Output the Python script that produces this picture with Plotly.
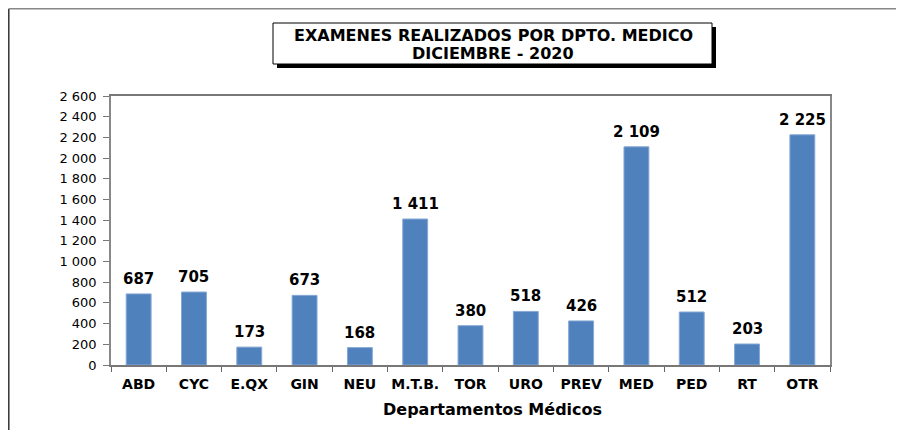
import plotly.graph_objects as go

categories = ["ABD", "CYC", "E.QX", "GIN", "NEU", "M.T.B.", "TOR", "URO", "PREV", "MED", "PED", "RT", "OTR"]
values = [687, 705, 173, 673, 168, 1411, 380, 518, 426, 2109, 512, 203, 2225]
y_ticks = list(range(0, 2601, 200))
title_lines = ["EXAMENES REALIZADOS POR DPTO. MEDICO", "DICIEMBRE - 2020"]
x_title = "Departamentos Médicos"

# page body has an 8px margin, so the figure is drawn 8px in from the window edge
OFF = 8
W, H = 904 - OFF, 430 - OFF
L, R, T, B = 111 - OFF, 830 - OFF, 96 - OFF, 365 - OFF


def fmt(v):
    return f"{v:,}".replace(",", " ")


def px(x):
    return (x - OFF - L) / (R - L)


def py(y):
    return (B - (y - OFF)) / (B - T)


FONT = "DejaVu Sans, Verdana, sans-serif"

fig = go.Figure()
fig.add_trace(go.Bar(
    x=categories, y=values,
    marker=dict(color="#4F81BD", line=dict(color="#86A8D6", width=1)),
    width=0.45,
    hoverinfo="x+y",
))

annotations = []
for c, v in zip(categories, values):
    annotations.append(dict(
        x=c, y=v, xref="x", yref="y", text=f"<b>{fmt(v)}</b>",
        showarrow=False, yanchor="middle", yshift=15,
        font=dict(family=FONT, size=15, color="#000"),
    ))

# title (two lines inside a shadowed box)
for line, yc in zip(title_lines, [35, 53]):
    annotations.append(dict(
        x=px(493), y=py(yc), xref="paper", yref="paper",
        text=f"<b>{line}</b>", showarrow=False,
        xanchor="center", yanchor="middle",
        font=dict(family=FONT, size=16, color="#000"),
    ))
annotations.append(dict(
    x=px(492), y=py(409), xref="paper", yref="paper",
    text=f"<b>{x_title}</b>", showarrow=False,
    xanchor="center", yanchor="middle",
    font=dict(family=FONT, size=16, color="#000"),
))

shapes = [
    # outer frame (left and top edges)
    dict(type="line", xref="paper", yref="paper", x0=px(8.8), x1=px(8.8), y0=py(8.8), y1=py(440),
         line=dict(color="#333", width=1.5)),
    dict(type="line", xref="paper", yref="paper", x0=px(8.8), x1=px(920), y0=py(8.8), y1=py(8.8),
         line=dict(color="#888", width=1.5)),
    # title shadow and box
    dict(type="rect", xref="paper", yref="paper", x0=px(277), x1=px(716), y0=py(27), y1=py(68),
         fillcolor="#000", line=dict(width=0)),
    dict(type="rect", xref="paper", yref="paper", x0=px(273), x1=px(712), y0=py(23), y1=py(64),
         fillcolor="#fff", line=dict(color="#000", width=1)),
]

fig.update_layout(
    width=W, height=H,
    margin=dict(l=L, r=W - R, t=T, b=H - B, autoexpand=False),
    paper_bgcolor="white", plot_bgcolor="white",
    showlegend=False,
    bargap=0.55,
    font=dict(family=FONT, color="#000"),
    annotations=annotations,
    shapes=shapes,
    xaxis=dict(
        tickson="boundaries", ticks="outside", ticklen=5, tickcolor="#666",
        showline=True, linecolor="#777", linewidth=1.5, mirror=True,
        tickfont=dict(family=FONT, size=14, color="#000"),
        tickprefix="<b>", ticksuffix="</b>",
        tickangle=0,
        ticklabelstandoff=5,
        showgrid=False,
    ),
    yaxis=dict(
        range=[0, 2600], tickvals=y_ticks, ticktext=[fmt(v) for v in y_ticks],
        ticks="outside", ticklen=6, tickcolor="#777",
        showline=True, linecolor="#888", linewidth=1.5, mirror=True,
        tickfont=dict(family=FONT, size=13, color="#000"),
        ticklabelstandoff=4,
        showgrid=False, zeroline=False,
    ),
)

fig.write_html("out.html")
